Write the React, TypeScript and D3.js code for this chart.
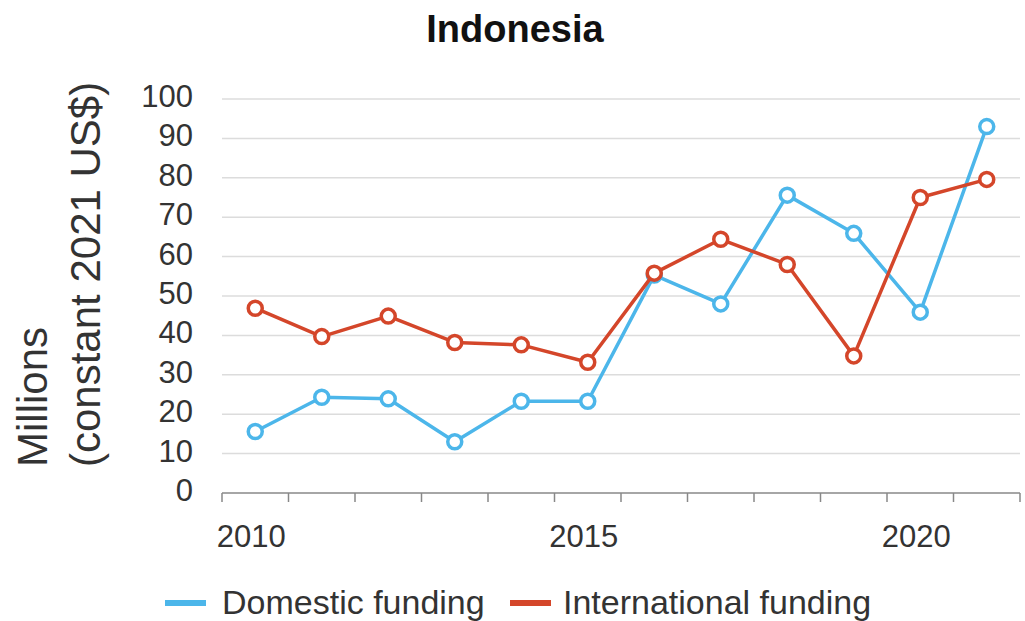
import React from "react";
import * as d3 from "d3";

const years = [2010, 2011, 2012, 2013, 2014, 2015, 2016, 2017, 2018, 2019, 2020, 2021];
const domestic = [15.6, 24.3, 23.9, 13.0, 23.3, 23.3, 55.3, 48.0, 75.6, 65.9, 45.9, 93.0];
const international = [46.9, 39.7, 44.9, 38.2, 37.6, 33.2, 55.8, 64.4, 58.0, 34.8, 75.0, 79.6];
const yTicks = [0, 10, 20, 30, 40, 50, 60, 70, 80, 90, 100];
const xLabels = [2010, 2015, 2020];
const seriesNames = ["Domestic funding", "International funding"];
const colors = ["#4cb6ea", "#d4462a"];

const W = 1025;
const H = 621;
const left = 222;
const right = 1020;
const top = 99;
const bottom = 493;
const font = "'Liberation Sans', Arial, sans-serif";

export default function App() {
  const x = d3.scaleBand<number>().domain(years).range([left, right]).padding(0);
  const y = d3.scaleLinear().domain([0, 100]).range([bottom, top]);
  const cx = (yr: number) => (x(yr) as number) + x.bandwidth() / 2;
  const line = d3
    .line<number>()
    .x((_, i) => cx(years[i]))
    .y((d) => y(d));
  const series = [domestic, international];
  const tickXs = years.map((yr) => x(yr) as number).concat([right]);

  return (
    <svg width={W} height={H} style={{ position: "absolute", left: 0, top: 0, background: "#fff" }}>
      <text x={515} y={42} textAnchor="middle" fontFamily={font} fontWeight="bold" fontSize={38} fill="#111">
        Indonesia
      </text>
      {yTicks.map((t) => (
        <g key={t}>
          {t > 0 && <line x1={left} x2={right} y1={y(t)} y2={y(t)} stroke="#dcdcdc" strokeWidth={1.5} />}
          <text x={193} y={y(t) + 8} textAnchor="end" fontFamily={font} fontSize={31} fill="#333">
            {t}
          </text>
        </g>
      ))}
      <line x1={left} x2={right} y1={bottom} y2={bottom} stroke="#888" strokeWidth={1.5} />
      {tickXs.map((tx, i) => (
        <line key={i} x1={tx} x2={tx} y1={bottom} y2={bottom + 9} stroke="#888" strokeWidth={1.5} />
      ))}
      {xLabels.map((yr) => (
        <text key={yr} x={cx(yr) - 4} y={547} textAnchor="middle" fontFamily={font} fontSize={31} fill="#333">
          {yr}
        </text>
      ))}
      <g transform={`translate(0, 467) rotate(-90)`} fontFamily={font} fontSize={42} fill="#333">
        <text x={0} y={47} textAnchor="start">Millions</text>
        <text x={0} y={100} textAnchor="start">(constant 2021 US$)</text>
      </g>
      {series.map((s, si) => (
        <g key={si}>
          <path d={line(s) || ""} fill="none" stroke={colors[si]} strokeWidth={3.5} strokeLinejoin="round" />
          {s.map((v, i) => (
            <circle key={i} cx={cx(years[i])} cy={y(v)} r={7} fill="#fff" stroke={colors[si]} strokeWidth={3.5} />
          ))}
        </g>
      ))}
      <g fontFamily={font} fontSize={34} fill="#333">
        <line x1={165} x2={206} y1={603} y2={603} stroke={colors[0]} strokeWidth={6} />
        <text x={222} y={614}>{seriesNames[0]}</text>
        <line x1={510} x2={551} y1={603} y2={603} stroke={colors[1]} strokeWidth={6} />
        <text x={563} y={614}>{seriesNames[1]}</text>
      </g>
    </svg>
  );
}
